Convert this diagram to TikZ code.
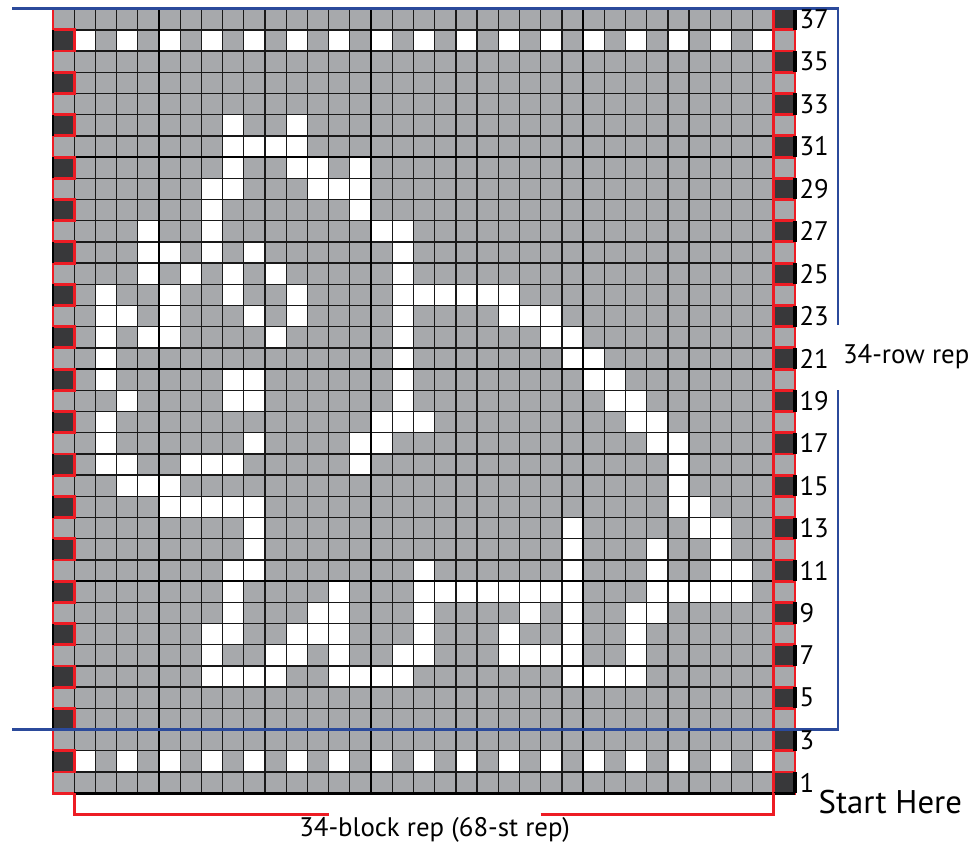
\documentclass[tikz,border=0pt]{standalone}
\usepackage{fontspec}
\setmainfont{PT Sans}
\usepackage{tikz}
\usetikzlibrary{positioning}
\definecolor{chartGray}{HTML}{A7A9AC}
\definecolor{chartDark}{HTML}{38383A}
\definecolor{chartRed}{HTML}{ED1C24}
\definecolor{chartBlue}{HTML}{2B4A9B}

\begin{document}
\begin{tikzpicture}[
  x=5mm, y=5mm,
  every node/.style={font=\fontsize{18}{20}\selectfont, inner sep=0pt},
  thingrid/.style={line width=0.9pt, black!90},
  majorgrid/.style={line width=1.6pt, black},
  edgered/.style={line width=1.9pt, chartRed},
  repblue/.style={line width=1.6pt, chartBlue},
  rownum/.style={anchor=west},
]
\useasboundingbox (-2.5,-2.55) rectangle (43.44,37.41);

% === Base: grey stitches ===
\fill[chartGray] (0,0) rectangle (35,37);

% === White stitches (rows 1..37 from bottom, columns 1..33 from left) ===
\foreach \c in {1,3,...,33} {
  \fill[white] (\c,35) rectangle ++(1,1);
  \fill[white] (\c,1) rectangle ++(1,1);
}
\foreach \r/\cols in {32/{8,11}, 31/{8,9,10,11}, 30/{8,11,12,14},
    29/{7,8,12,13,14}, 28/{7,14}, 27/{4,7,15,16}, 26/{4,5,7,9,16},
    25/{4,6,8,10,16}, 24/{2,5,8,11,16,17,18,19,20,21},
    23/{2,3,5,9,11,16,21,22,23}, 22/{2,4,5,10,16,23,24},
    21/{2,16,24,25}, 20/{2,8,9,16,25,26}, 19/{3,8,9,16,26,27},
    18/{2,15,16,17,27,28}, 17/{2,9,14,15,28,29}, 16/{2,3,6,7,8,14,29},
    15/{3,4,5,29}, 14/{5,6,7,8,9,29,30}, 13/{9,24,30,31},
    12/{9,24,28,31}, 11/{8,9,17,24,28,31,32},
    10/{8,13,17,18,19,20,21,22,23,24,28,29,30,31,32},
    9/{8,12,13,17,22,24,27,28}, 8/{7,8,11,12,13,17,21,24,27},
    7/{7,10,11,13,16,17,21,22,23,24,27},
    6/{7,8,9,10,13,14,15,16,24,25,26,27}} {
  \foreach \c in \cols
    \fill[white] (\c,\r-1) rectangle ++(1,1);
}

% === Edge stitches ===
\foreach \r in {2,4,...,36}
  \fill[chartDark] (0,\r-1) rectangle ++(1,1);
\foreach \r in {1,3,...,37}
  \fill[chartDark] (34,\r-1) rectangle ++(1,1);

% === Grid ===
\foreach \x in {0,...,35}
  \draw[thingrid] (\x,0) -- (\x,37);
\foreach \y in {0,...,37}
  \draw[thingrid] (0,\y) -- (35,\y);
\foreach \x in {5,15,25}
  \draw[majorgrid] (\x,0) -- (\x,37);
\foreach \y in {10,20,30}
  \draw[majorgrid] (0,\y) -- (35,\y);
\draw[majorgrid, line width=2.2pt] (1,0) -- (34,0);

% === Red edge outlines ===
\draw[edgered] (0,37) -- (0,0) -- (1,0);
\foreach \r in {2,4,...,36} {
  \draw[edgered] (0,\r-1) rectangle ++(1,1);
  \draw[majorgrid] (0,\r-1) -- ++(0,1);
}
\foreach \r in {1,...,37}
  \draw[edgered] (34,\r-1) rectangle ++(1,1);
\foreach \r in {1,3,...,37}
  \draw[majorgrid, line width=2.2pt] (35,\r-1) -- ++(0,1);
\draw[majorgrid, line width=2.2pt] (34,0) -- (35,0);

% === 34-row repeat (blue) ===
\coordinate (repTL) at (-1.93,37);
\coordinate (repTR) at (37.03,37);
\coordinate (repGapT) at (37.03,22.07);
\coordinate (repGapB) at (37.03,19);
\coordinate (repBR) at (37.03,3);
\coordinate (repBL) at (-1.93,3);
\draw[repblue] (repTL) -- (repTR) -- (repGapT);
\draw[repblue] (repGapB) -- (repBR) -- (repBL);

% === 34-block repeat (red bracket) ===
\coordinate (blkL) at (1,0);
\coordinate (blkLD) at (1,-1);
\coordinate (blkLE) at (13,-1);
\coordinate (blkRE) at (23,-1);
\coordinate (blkRD) at (34,-1);
\coordinate (blkR) at (34,0);
\draw[edgered] (blkL) -- (blkLD) -- (blkLE);
\draw[edgered] (blkRE) -- (blkRD) -- (blkR);

% === Labels ===
\foreach \r in {1,3,...,37}
  \node[rownum] (row\r) at (35.2,\r-0.5) {\r};
\node[anchor=west] (rowrep) at (37.25,20.6) {34-row rep};
\node[anchor=west, font=\fontsize{22}{24}\selectfont] (starthere) at (36.1,-0.4) {Start Here};
\node (blockrep) at (18,-1.75) {34-block rep (68-st rep)};

\end{tikzpicture}
\end{document}
